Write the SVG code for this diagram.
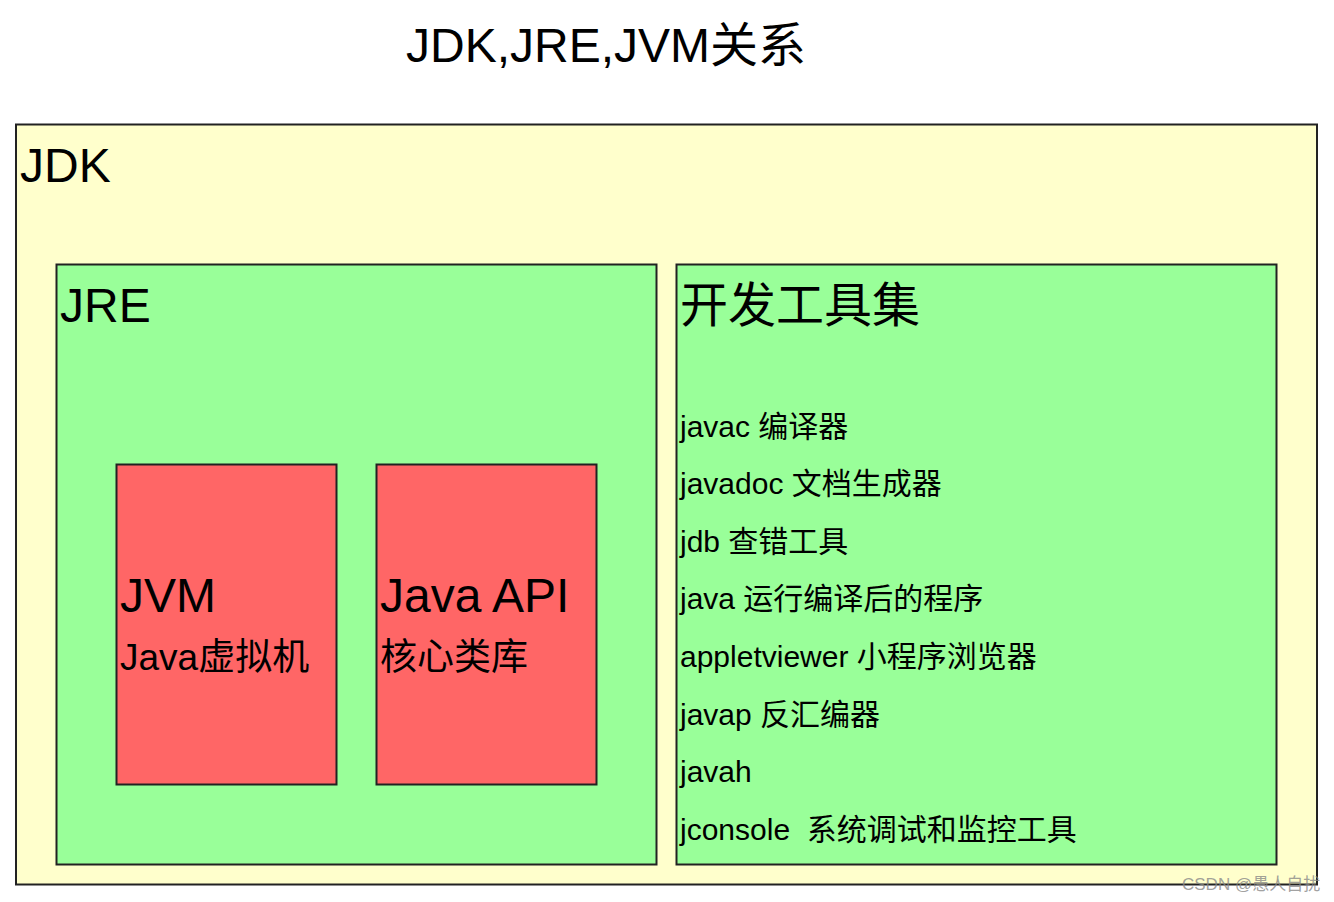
<svg xmlns="http://www.w3.org/2000/svg" width="1334" height="902" viewBox="0 0 1334 902">
<style>
text{font-family:"Liberation Sans","Noto Sans CJK SC",Arial,sans-serif;fill:#000}
.box{stroke:#222;stroke-width:2}
.big{font-size:48px}
.mid{font-size:37px}
.item{font-size:30px}
.wm{font-size:17px;fill:#888;fill-opacity:0.8}
</style>
<rect width="1334" height="902" fill="#fff"/>
<text class="big" x="406" y="62">JDK,JRE,JVM关系</text>
<g id="jdk">
<rect class="box" x="16" y="124.5" width="1301" height="760" fill="#FFFFCC"/>
<text class="big" x="20" y="182">JDK</text>
</g>
<g id="jre">
<rect class="box" x="56.5" y="264.5" width="600" height="600" fill="#99FF99"/>
<text class="big" x="60" y="322">JRE</text>
</g>
<g id="jvm">
<rect class="box" x="116.5" y="464.5" width="220" height="320" fill="#FF6666"/>
<text class="big" x="120" y="612">JVM</text>
<text class="mid" x="120" y="670">Java虚拟机</text>
</g>
<g id="javaapi">
<rect class="box" x="376.5" y="464.5" width="220" height="320" fill="#FF6666"/>
<text class="big" x="380" y="612">Java API</text>
<text class="mid" x="380" y="670">核心类库</text>
</g>
<g id="tools">
<rect class="box" x="676.5" y="264.5" width="600" height="600" fill="#99FF99"/>
<text class="big" x="680" y="322">开发工具集</text>
<text class="item" x="680" y="437">javac 编译器</text>
<text class="item" x="680" y="494">javadoc 文档生成器</text>
<text class="item" x="680" y="552">jdb 查错工具</text>
<text class="item" x="680" y="609">java 运行编译后的程序</text>
<text class="item" x="680" y="667">appletviewer 小程序浏览器</text>
<text class="item" x="680" y="725">javap 反汇编器</text>
<text class="item" x="680" y="782">javah</text>
<text class="item" x="680" y="840" xml:space="preserve">jconsole  系统调试和监控工具</text>
</g>
<g id="connectors"></g>
<text class="wm" x="1182" y="890">CSDN @愚人自扰</text>
</svg>
